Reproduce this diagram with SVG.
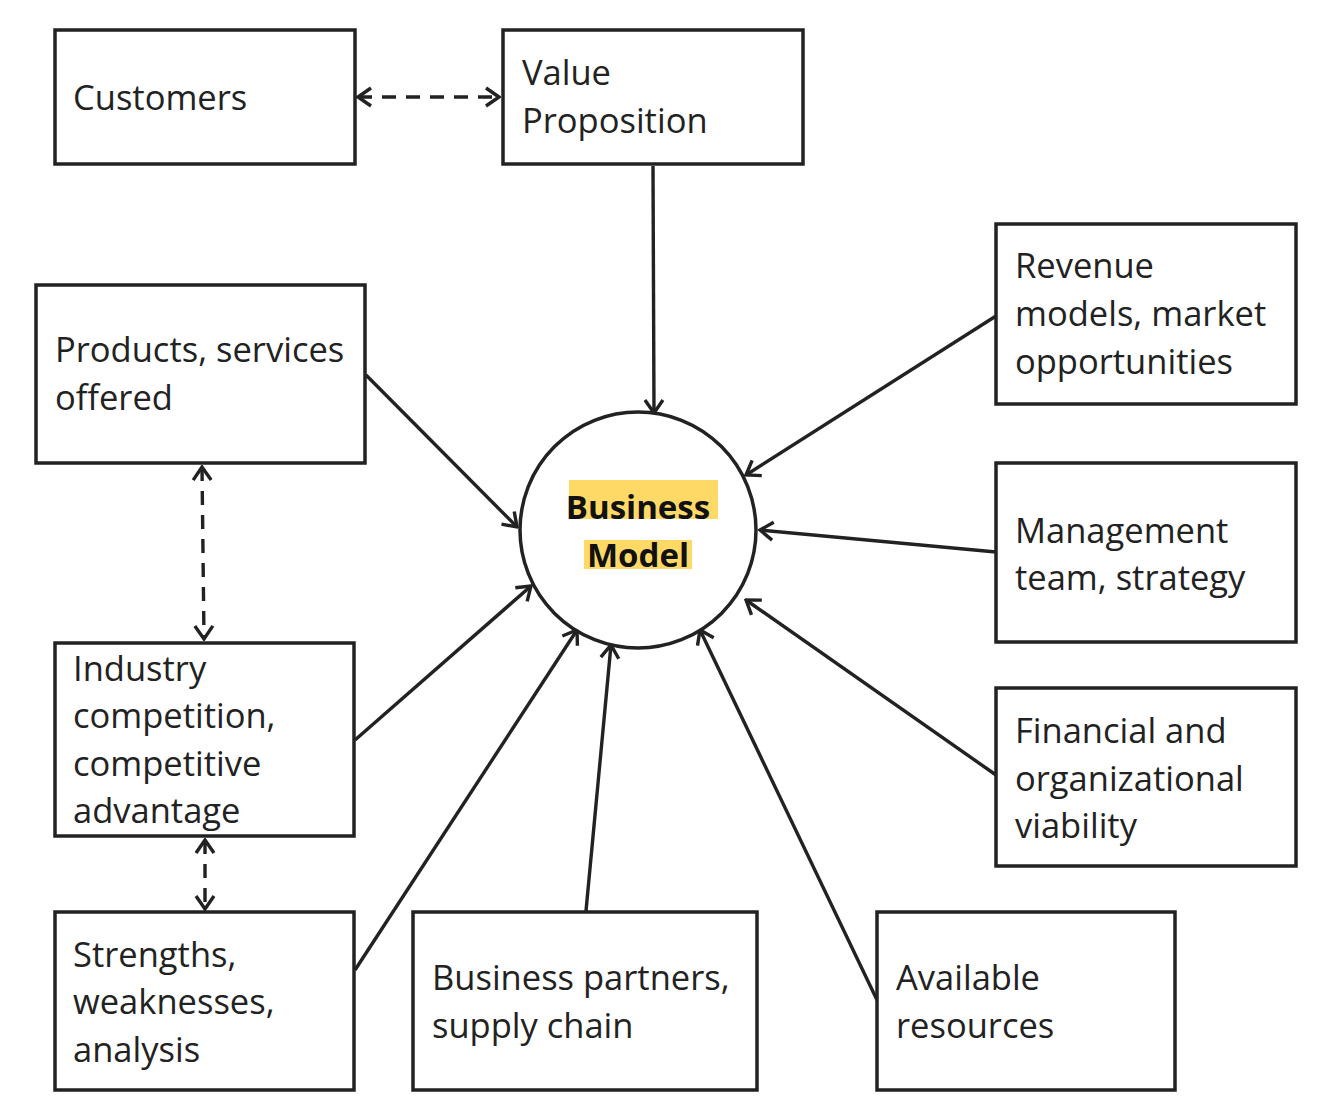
<svg xmlns="http://www.w3.org/2000/svg" width="1322" height="1107" viewBox="0 0 1322 1107">
<style>
.box{fill:#fff;stroke:#222;stroke-width:3.5}
.t{font-family:"Open Sans","Noto Sans",sans-serif;font-size:34.5px;fill:#222}
.b{font-family:"Open Sans","Noto Sans",sans-serif;font-size:33px;font-weight:bold;fill:#111;text-anchor:middle}
.c{fill:none;stroke:#222;stroke-width:3.4}
.d{stroke-dasharray:14 10}
</style>
<defs>
<marker id="ah" viewBox="-16 -11 18 22" refX="0" refY="0" markerWidth="18" markerHeight="22" markerUnits="userSpaceOnUse" orient="auto-start-reverse">
<path d="M-13,-9 L0,0 L-13,9" fill="none" stroke="#222" stroke-width="3.4"/>
</marker>
</defs>
<rect width="1322" height="1107" fill="#fff"/>
<g id="connectors">
<line class="c d" x1="358" y1="97" x2="499" y2="97" marker-start="url(#ah)" marker-end="url(#ah)"/>
<line class="c" x1="653" y1="166" x2="654" y2="413" marker-end="url(#ah)"/>
<line class="c" x1="366" y1="375" x2="517" y2="527" marker-end="url(#ah)"/>
<line class="c" x1="996" y1="316" x2="746" y2="475" marker-end="url(#ah)"/>
<line class="c" x1="996" y1="552" x2="760" y2="530" marker-end="url(#ah)"/>
<line class="c" x1="996" y1="775" x2="746" y2="600" marker-end="url(#ah)"/>
<line class="c" x1="355" y1="740" x2="531" y2="586" marker-end="url(#ah)"/>
<line class="c" x1="355" y1="970" x2="577" y2="630" marker-end="url(#ah)"/>
<line class="c" x1="586" y1="911" x2="611" y2="645" marker-end="url(#ah)"/>
<line class="c" x1="877" y1="1000" x2="700" y2="630" marker-end="url(#ah)"/>
<line class="c d" x1="202" y1="467" x2="204" y2="639" marker-start="url(#ah)" marker-end="url(#ah)"/>
<line class="c d" x1="205" y1="840" x2="205" y2="909" marker-start="url(#ah)" marker-end="url(#ah)"/>
</g>
<g id="customers">
<rect class="box" x="55" y="30" width="300" height="134"/>
<text class="t" x="73" y="110">Customers</text>
</g>
<g id="value-proposition">
<rect class="box" x="503" y="30" width="300" height="134"/>
<text class="t" x="522" y="85">Value</text>
<text class="t" x="522" y="133">Proposition</text>
</g>
<g id="products">
<rect class="box" x="36" y="285" width="329" height="178"/>
<text class="t" x="55" y="362">Products, services</text>
<text class="t" x="55" y="410">offered</text>
</g>
<g id="industry">
<rect class="box" x="55" y="643" width="299" height="193"/>
<text class="t" x="73" y="681">Industry</text>
<text class="t" x="73" y="728">competition,</text>
<text class="t" x="73" y="776">competitive</text>
<text class="t" x="73" y="823">advantage</text>
</g>
<g id="strengths">
<rect class="box" x="55" y="912" width="299" height="178"/>
<text class="t" x="73" y="967">Strengths,</text>
<text class="t" x="73" y="1014">weaknesses,</text>
<text class="t" x="73" y="1062">analysis</text>
</g>
<g id="partners">
<rect class="box" x="413" y="912" width="344" height="178"/>
<text class="t" x="432" y="990">Business partners,</text>
<text class="t" x="432" y="1038">supply chain</text>
</g>
<g id="resources">
<rect class="box" x="877" y="912" width="298" height="178"/>
<text class="t" x="896" y="990">Available</text>
<text class="t" x="896" y="1038">resources</text>
</g>
<g id="revenue">
<rect class="box" x="996" y="224" width="300" height="180"/>
<text class="t" x="1015" y="278">Revenue</text>
<text class="t" x="1015" y="326">models, market</text>
<text class="t" x="1015" y="374">opportunities</text>
</g>
<g id="management">
<rect class="box" x="996" y="463" width="300" height="179"/>
<text class="t" x="1015" y="543">Management</text>
<text class="t" x="1015" y="590">team, strategy</text>
</g>
<g id="financial">
<rect class="box" x="996" y="688" width="300" height="178"/>
<text class="t" x="1015" y="743">Financial and</text>
<text class="t" x="1015" y="791">organizational</text>
<text class="t" x="1015" y="838">viability</text>
</g>
<g id="business-model">
<circle cx="638" cy="530" r="118" fill="#fff" stroke="#222" stroke-width="3.5"/>
<rect x="569" y="480" width="149" height="39" fill="#FFD966"/>
<rect x="584" y="540" width="108" height="29" fill="#FFD966"/>
<text class="b" x="638" y="519">Business</text>
<text class="b" x="638" y="567">Model</text>
</g>
</svg>
